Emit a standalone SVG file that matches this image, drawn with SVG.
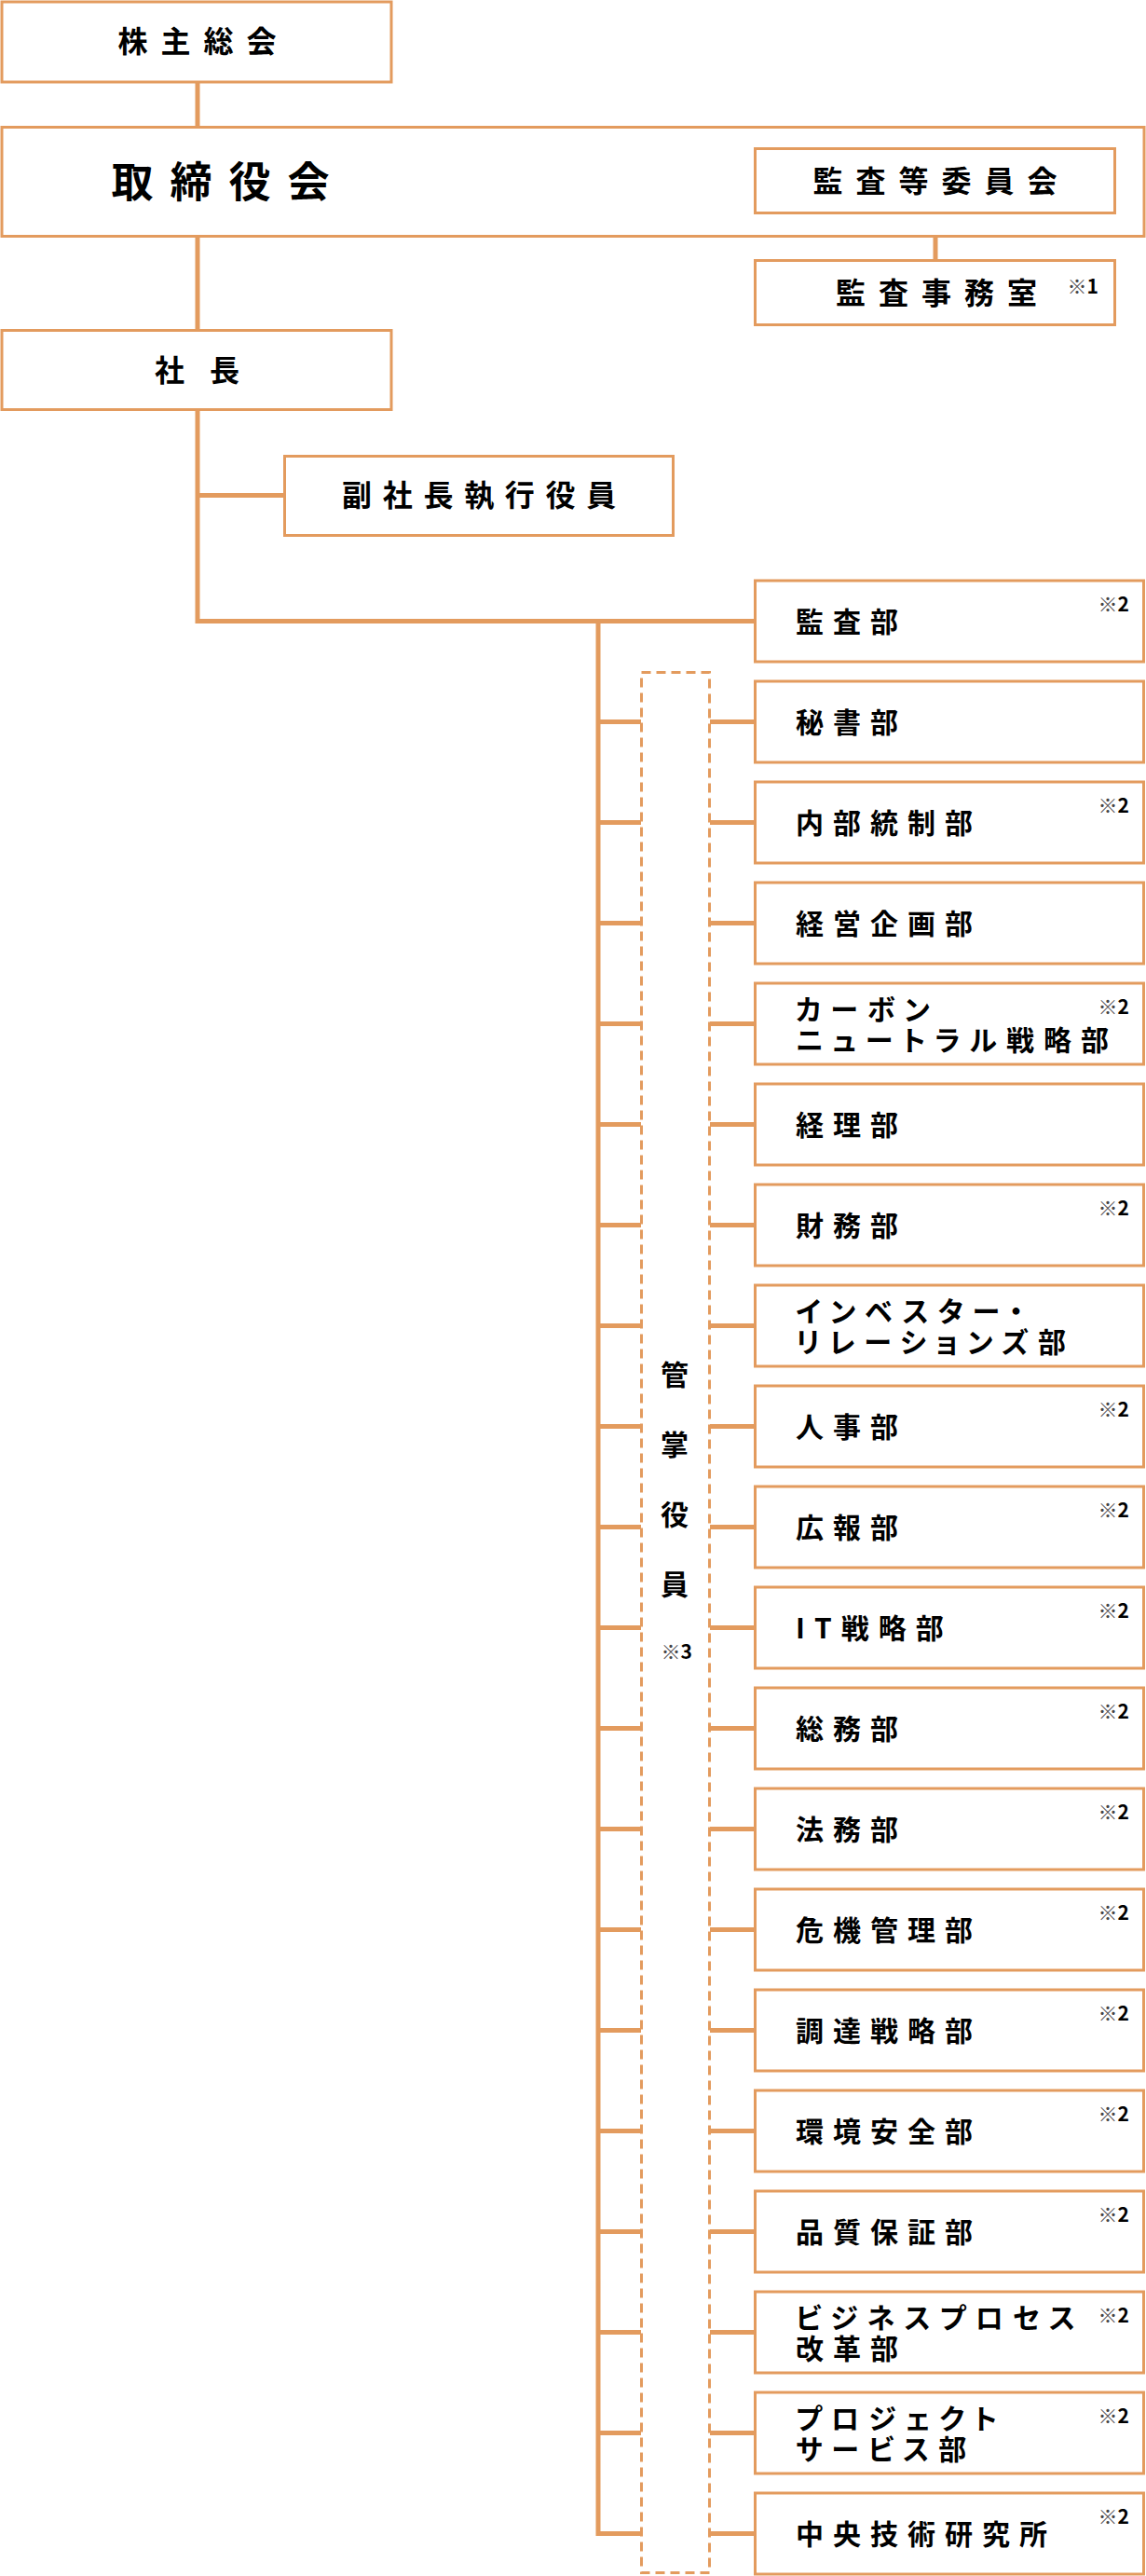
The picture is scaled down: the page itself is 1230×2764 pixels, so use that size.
<svg xmlns="http://www.w3.org/2000/svg" width="1230" height="2764" viewBox="0 0 1230 2764">
<style>
.box{fill:#fff;stroke:#E39B5E;stroke-width:3}
.conn{fill:none;stroke:#E39B5E;stroke-width:5;stroke-linejoin:miter;stroke-linecap:butt}
.dash{fill:none;stroke:#E39B5E;stroke-width:3;stroke-dasharray:10 6}
.t{font-family:"Noto Sans CJK JP","Noto Sans",sans-serif;font-weight:700;fill:#000}
.top{font-size:32px;letter-spacing:14px;text-anchor:middle}
.dept{font-size:30px;letter-spacing:10px;font-feature-settings:"palt"}
.note{font-family:"Noto Sans CJK JP","Noto Sans",sans-serif;font-size:21px;font-weight:700;fill:#000;text-anchor:end}
.mark{font-weight:300;fill:#444}
</style>
<rect width="1230" height="2764" fill="#fff"/>
<g id="connectors">
<path class="conn" d="M212 88 V137"/>
<path class="conn" d="M212 253 V355"/>
<path class="conn" d="M212 440 V666.5 H810"/>
<path class="conn" d="M212 531.5 H306"/>
<path class="conn" d="M1004 229 V280"/>
<path class="conn" d="M642 666.5 V2718.5 H688"/>
<path class="conn" d="M642 774.5 H688 M762 774.5 H810 M642 882.5 H688 M762 882.5 H810 M642 990.5 H688 M762 990.5 H810 M642 1098.5 H688 M762 1098.5 H810 M642 1206.5 H688 M762 1206.5 H810 M642 1314.5 H688 M762 1314.5 H810 M642 1422.5 H688 M762 1422.5 H810 M642 1530.5 H688 M762 1530.5 H810 M642 1638.5 H688 M762 1638.5 H810 M642 1746.5 H688 M762 1746.5 H810 M642 1854.5 H688 M762 1854.5 H810 M642 1962.5 H688 M762 1962.5 H810 M642 2070.5 H688 M762 2070.5 H810 M642 2178.5 H688 M762 2178.5 H810 M642 2286.5 H688 M762 2286.5 H810 M642 2394.5 H688 M762 2394.5 H810 M642 2502.5 H688 M762 2502.5 H810 M642 2610.5 H688 M762 2610.5 H810 M762 2718.5 H810"/>
</g>
<g id="n-kabunushi">
<rect class="box" x="2" y="2" width="418" height="86"/>
<text class="t top" x="218.5" y="56">株主総会</text>
</g>
<g id="n-torishimariyakukai">
<rect class="box" x="2" y="136.5" width="1226" height="117"/>
<text class="t" x="245.5" y="212" font-size="45" letter-spacing="18" text-anchor="middle">取締役会</text>
</g>
<g id="n-kansatou">
<rect class="box" x="810.5" y="159.5" width="386" height="69"/>
<text class="t top" x="1010.5" y="206">監査等委員会</text>
</g>
<g id="n-kansajimushitsu">
<rect class="box" x="810.5" y="279.5" width="386" height="69"/>
<text class="t top" x="1012" y="326">監査事務室</text>
<text class="note" x="1179" y="315"><tspan class="mark">※</tspan>1</text>
</g>
<g id="n-shacho">
<rect class="box" x="2" y="354.5" width="418" height="85"/>
<text class="t" font-size="32" x="166 225" y="409">社長</text>
</g>
<g id="n-fukushacho">
<rect class="box" x="305.5" y="489.5" width="417" height="85"/>
<text class="t" font-size="32" letter-spacing="11.7" text-anchor="middle" x="520" y="543">副社長執行役員</text>
</g>
<g id="n-kansho">
<rect class="dash" x="688.5" y="721.5" width="73" height="2039"/>
<text class="t" font-size="30" text-anchor="middle"><tspan x="724" y="1486">管</tspan><tspan x="724" y="1561">掌</tspan><tspan x="724" y="1636">役</tspan><tspan x="724" y="1711">員</tspan></text>
<text class="note" x="743" y="1780"><tspan class="mark">※</tspan>3</text>
</g>
<g id="d00"><rect class="box" x="810.5" y="623" width="417" height="87"/><text class="t dept" x="854" y="677.5">監査部</text><text class="note" x="1212" y="656"><tspan class="mark">※</tspan>2</text></g>
<g id="d01"><rect class="box" x="810.5" y="731" width="417" height="87"/><text class="t dept" x="854" y="785.5">秘書部</text></g>
<g id="d02"><rect class="box" x="810.5" y="839" width="417" height="87"/><text class="t dept" x="854" y="893.5">内部統制部</text><text class="note" x="1212" y="872"><tspan class="mark">※</tspan>2</text></g>
<g id="d03"><rect class="box" x="810.5" y="947" width="417" height="87"/><text class="t dept" x="854" y="1001.5">経営企画部</text></g>
<g id="d04"><rect class="box" x="810.5" y="1055" width="417" height="87"/><text class="t dept" x="854" y="1093.5">カーボン</text><text class="t dept" x="854" y="1126.5">ニュートラル戦略部</text><text class="note" x="1212" y="1088"><tspan class="mark">※</tspan>2</text></g>
<g id="d05"><rect class="box" x="810.5" y="1163" width="417" height="87"/><text class="t dept" x="854" y="1217.5">経理部</text></g>
<g id="d06"><rect class="box" x="810.5" y="1271" width="417" height="87"/><text class="t dept" x="854" y="1325.5">財務部</text><text class="note" x="1212" y="1304"><tspan class="mark">※</tspan>2</text></g>
<g id="d07"><rect class="box" x="810.5" y="1379" width="417" height="87"/><text class="t dept" x="854" y="1417.5">インベスター・</text><text class="t dept" x="854" y="1450.5">リレーションズ部</text></g>
<g id="d08"><rect class="box" x="810.5" y="1487" width="417" height="87"/><text class="t dept" x="854" y="1541.5">人事部</text><text class="note" x="1212" y="1520"><tspan class="mark">※</tspan>2</text></g>
<g id="d09"><rect class="box" x="810.5" y="1595" width="417" height="87"/><text class="t dept" x="854" y="1649.5">広報部</text><text class="note" x="1212" y="1628"><tspan class="mark">※</tspan>2</text></g>
<g id="d10"><rect class="box" x="810.5" y="1703" width="417" height="87"/><text class="t dept" x="854" y="1757.5">IT戦略部</text><text class="note" x="1212" y="1736"><tspan class="mark">※</tspan>2</text></g>
<g id="d11"><rect class="box" x="810.5" y="1811" width="417" height="87"/><text class="t dept" x="854" y="1865.5">総務部</text><text class="note" x="1212" y="1844"><tspan class="mark">※</tspan>2</text></g>
<g id="d12"><rect class="box" x="810.5" y="1919" width="417" height="87"/><text class="t dept" x="854" y="1973.5">法務部</text><text class="note" x="1212" y="1952"><tspan class="mark">※</tspan>2</text></g>
<g id="d13"><rect class="box" x="810.5" y="2027" width="417" height="87"/><text class="t dept" x="854" y="2081.5">危機管理部</text><text class="note" x="1212" y="2060"><tspan class="mark">※</tspan>2</text></g>
<g id="d14"><rect class="box" x="810.5" y="2135" width="417" height="87"/><text class="t dept" x="854" y="2189.5">調達戦略部</text><text class="note" x="1212" y="2168"><tspan class="mark">※</tspan>2</text></g>
<g id="d15"><rect class="box" x="810.5" y="2243" width="417" height="87"/><text class="t dept" x="854" y="2297.5">環境安全部</text><text class="note" x="1212" y="2276"><tspan class="mark">※</tspan>2</text></g>
<g id="d16"><rect class="box" x="810.5" y="2351" width="417" height="87"/><text class="t dept" x="854" y="2405.5">品質保証部</text><text class="note" x="1212" y="2384"><tspan class="mark">※</tspan>2</text></g>
<g id="d17"><rect class="box" x="810.5" y="2459" width="417" height="87"/><text class="t dept" x="854" y="2497.5">ビジネスプロセス</text><text class="t dept" x="854" y="2530.5">改革部</text><text class="note" x="1212" y="2492"><tspan class="mark">※</tspan>2</text></g>
<g id="d18"><rect class="box" x="810.5" y="2567" width="417" height="87"/><text class="t dept" x="854" y="2605.5">プロジェクト</text><text class="t dept" x="854" y="2638.5">サービス部</text><text class="note" x="1212" y="2600"><tspan class="mark">※</tspan>2</text></g>
<g id="d19"><rect class="box" x="810.5" y="2675" width="417" height="87"/><text class="t dept" x="854" y="2729.5">中央技術研究所</text><text class="note" x="1212" y="2708"><tspan class="mark">※</tspan>2</text></g>
</svg>
